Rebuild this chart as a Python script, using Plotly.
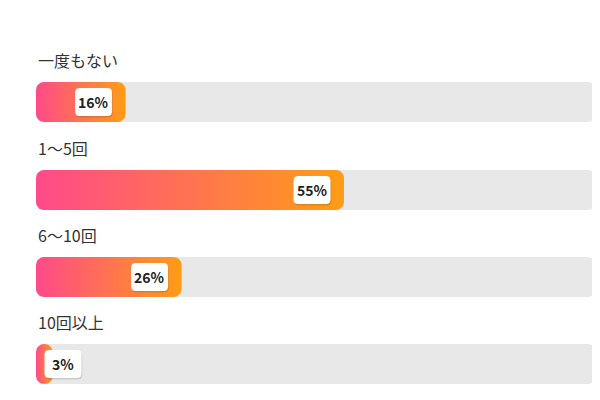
import numpy as np
import plotly.graph_objects as go

categories = ["一度もない", "1〜5回", "6〜10回", "10回以上"]
values = [16, 55, 26, 3]
value_labels = ["16%", "55%", "26%", "3%"]

PX = 5.6  # pixels per percent
bar_tops = [66, 154, 241, 328]
BAR_H = 40


def rounded_rect(x0, x1, y0, y1, rx, ry, n=8):
    xs, ys = [], []
    corners = [(x1 - rx, y0 + ry, -np.pi / 2, 0), (x1 - rx, y1 - ry, 0, np.pi / 2),
               (x0 + rx, y1 - ry, np.pi / 2, np.pi), (x0 + rx, y0 + ry, np.pi, 1.5 * np.pi)]
    for cx, cy, a0, a1 in corners:
        t = np.linspace(a0, a1, n)
        xs += list(cx + rx * np.cos(t))
        ys += list(cy + ry * np.sin(t))
    xs.append(xs[0])
    ys.append(ys[0])
    return xs, ys


fig = go.Figure()
r = 8
for cat, v, lab, top in zip(categories, values, value_labels, bar_tops):
    # track
    xs, ys = rounded_rect(0, 100, top, top + BAR_H, r / PX, r)
    fig.add_trace(go.Scatter(x=xs, y=ys, fill="toself", fillcolor="#e8e8e8",
                             line=dict(width=0), mode="lines", hoverinfo="skip"))
    # gradient bar
    rr = min(r, v * PX / 2)
    xs, ys = rounded_rect(0, v, top, top + BAR_H, rr / PX, r)
    fig.add_trace(go.Scatter(
        x=xs, y=ys, fill="toself", mode="lines", line=dict(width=0), hoverinfo="skip",
        fillgradient=dict(type="horizontal",
                          colorscale=[[0, "#ff4a8a"], [0.85, "#ff9028"], [1, "#ff9d14"]])))
    # label box
    cx = max(v * PX - 32, 27) / PX
    bx, by = rounded_rect(cx - 18.5 / PX, cx + 18.5 / PX, top + 6, top + 34, 4 / PX, 4)
    fig.add_trace(go.Scatter(x=[p + 0.15 for p in bx], y=[p + 1.5 for p in by], fill="toself",
                             fillcolor="rgba(0,0,0,0.12)", line=dict(width=0),
                             mode="lines", hoverinfo="skip"))
    fig.add_trace(go.Scatter(x=bx, y=by, fill="toself", fillcolor="white",
                             line=dict(width=0), mode="lines", hoverinfo="skip"))
    fig.add_annotation(x=cx, y=top + 20, text="<b>" + lab + "</b>", showarrow=False,
                       font=dict(size=14, color="#222", family="Noto Sans CJK JP"))
    fig.add_annotation(x=0, y=top - 8, text=cat, showarrow=False, xanchor="left",
                       yanchor="bottom", font=dict(size=16, color="#333",
                                                   family="Noto Sans CJK JP"))

# page body adds an 8px offset, compensate in the ranges
fig.update_layout(
    width=600, height=400, margin=dict(l=0, r=0, t=0, b=0),
    paper_bgcolor="white", plot_bgcolor="white", showlegend=False,
    xaxis=dict(range=[-28 / PX, 100 + 12 / PX], visible=False, fixedrange=True),
    yaxis=dict(range=[392, -8], visible=False, fixedrange=True),
)
fig.write_html("out.html")
